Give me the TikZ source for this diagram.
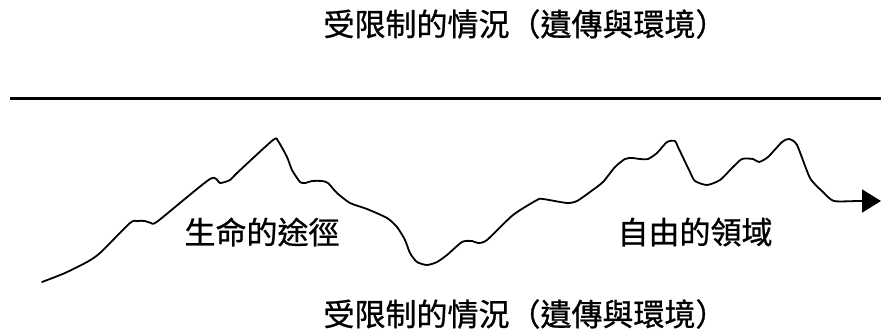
\documentclass[tikz,border=0pt]{standalone}
\usepackage{fontspec}
\newfontfamily\cjk[FakeBold=0.8]{Noto Sans CJK TC}
\usetikzlibrary{arrows.meta}
\newcommand{\lpar}{\makebox[31pt][r]{（}}
\newcommand{\rpar}{\makebox[31pt][l]{）}}
\tikzset{
  lbl/.style={font=\cjk\fontsize{31}{37}\selectfont, inner sep=0pt, anchor=center},
  path line/.style={line width=1.8pt, line join=round, line cap=round},
  bar/.style={line width=3.5pt}
}
\begin{document}
\begin{tikzpicture}[x=1pt,y=-1pt]
\useasboundingbox (0,0) rectangle (881,332);
\node[lbl] (top) at (525,24) {受限制的情況\lpar 遺傳與環境\rpar};
\node[lbl] (bottom) at (525,314) {受限制的情況\lpar 遺傳與環境\rpar};
\node[lbl] (life) at (262,232) {生命的途徑};
\node[lbl] (free) at (695,232) {自由的領域};
\coordinate (barL) at (10,98.5);
\coordinate (barR) at (881,98.5);
\draw[bar] (barL) -- (barR);
\draw[path line, -{Triangle[length=19pt,width=23pt]}] plot[smooth, tension=0.4] coordinates {
(42,282) (65,273) (87,262) (100,253) (130,223) (137,221) (145,221) (151,223) (158,221) (210,179) (220,183) (230,180) (237,173) (273,140) (278,141) (287,157) (292,170) (300,182) (305,183) (312,181) (322,181) (328,183) (337,193) (350,203) (367,209) (387,218) (397,227) (405,240) (410,253) (417,262) (427,265) (437,262) (447,255) (462,242) (472,241) (478,243) (487,240) (513,215) (537,200) (543,199) (567,203) (577,201) (590,192) (603,182) (615,167) (625,159) (632,158) (640,159) (648,159) (657,153) (667,142) (675,141) (678,147) (690,172) (695,181) (707,185) (720,180) (733,167) (742,159) (753,159) (759,162) (768,157) (782,142) (789,139) (797,145) (810,178) (823,192) (834,201) (858,201) (881,201)};
\end{tikzpicture}
\end{document}
